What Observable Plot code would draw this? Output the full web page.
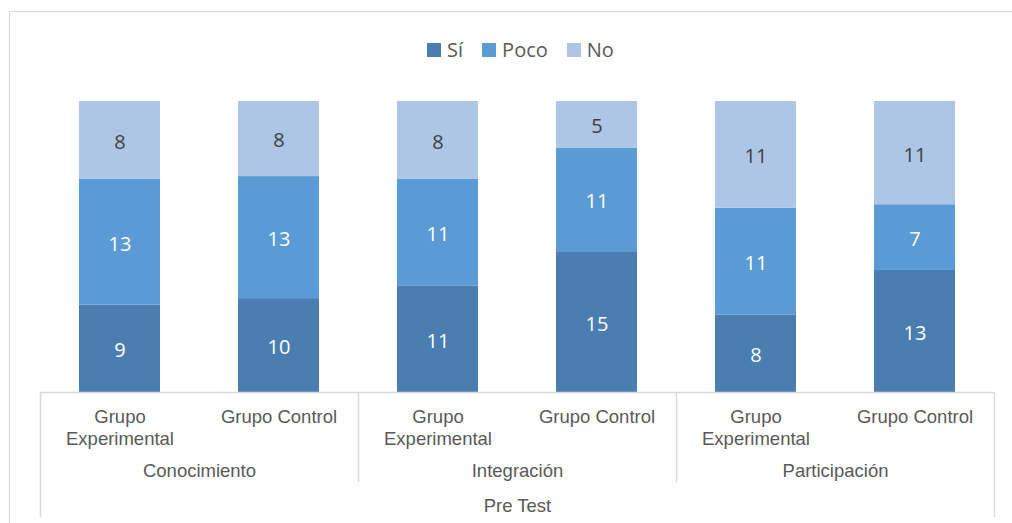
<!DOCTYPE html>
<html><head><meta charset="utf-8">
<script src="https://cdn.jsdelivr.net/npm/d3@7"></script>
<script src="https://cdn.jsdelivr.net/npm/@observablehq/plot@0.6"></script>
<style>
html,body{margin:0;padding:0;background:#fff;overflow:hidden;width:1012px;height:523px}
#frame{position:absolute;left:9px;top:11px;width:1100px;height:600px;border:1.5px solid #d9d9d9;box-sizing:border-box}
#wrap{position:absolute;left:0;top:0;width:1012px}
#legend{height:64px;box-sizing:border-box;padding-top:35px;padding-left:29px;display:flex;justify-content:center}
.lg-swatches{font-family:"Open Sans",sans-serif !important;font-size:20px !important;color:#595959 !important;margin:0 !important;}
.lg-swatches-wrap{min-height:0 !important;height:29px;justify-content:center}
.lg-swatch{margin-right:19px !important}
.lg-swatch:last-child{margin-right:0 !important}
.lg-swatch > svg{margin-right:6px !important}
#chartbox > svg{display:block}
</style>
</head>
<body>
<div id="frame"></div>
<div id="wrap"><div id="legend"></div><div id="chartbox"></div></div>
<script>
// ---- data ----
const phase = "Pre Test";
const sections = ["Conocimiento", "Integración", "Participación"];
const groups = ["Grupo Experimental", "Grupo Control"];
const cats = ["Sí", "Poco", "No"];
const siValues   = [9, 10, 11, 15, 8, 13];
const pocoValues = [13, 13, 11, 11, 11, 7];
const noValues   = [8, 8, 8, 5, 11, 11];
const colors = ["#4a7eb0", "#5b9bd5", "#adc6e6"];

const series = [siValues, pocoValues, noValues];
const data = [];
for (let i = 0; i < siValues.length; i++) {
  cats.forEach((c, k) => data.push({
    section: sections[Math.floor(i / 2)],
    group: groups[i % 2],
    cat: c,
    value: series[k][i]
  }));
}

// ---- layout ----
const W = 1012, H = 459, mT = 37, mB = 131, mL = 40, mR = 18;
const plotH = H - mT - mB;
const facetW = (W - mL - mR) / sections.length;
const step = facetW / groups.length;
const innerDepth = 90, outerDepth = 125;
const lineColor = "#d9d9d9";

const leftSeps = sections.map((s, i) => ({section: s, group: groups[0], depth: i === 0 ? outerDepth : innerDepth}));
const rightSeps = [{section: sections[sections.length - 1], group: groups[groups.length - 1], depth: outerDepth}];

const stackOpts = {offset: "normalize", fx: "section", x: "group", y: "value"};

const chart = Plot.plot({
  width: W, height: H,
  marginTop: mT, marginBottom: mB, marginLeft: mL, marginRight: mR,
  style: {fontFamily: "'Liberation Sans', Arial, sans-serif", fontSize: "18.5px", color: "#595959", background: "transparent", overflow: "visible"},
  fx: {domain: sections, padding: 0},
  x: {domain: groups, paddingInner: 0.49, paddingOuter: 0.245},
  y: {domain: [0, 1], axis: null},
  color: {domain: cats, range: colors},
  marks: [
    Plot.barY(data, Plot.stackY({...stackOpts, fill: "cat"})),
    Plot.ruleY([0], {stroke: lineColor, strokeWidth: 1.5}),
    Plot.ruleX(leftSeps, {fx: "section", x: "group", y1: 0, y2: d => -d.depth / plotH, dx: -step / 2, stroke: lineColor, strokeWidth: 1.5}),
    Plot.ruleX(rightSeps, {fx: "section", x: "group", y1: 0, y2: d => -d.depth / plotH, dx: step / 2, stroke: lineColor, strokeWidth: 1.5}),
    Plot.text(data, Plot.stackY({...stackOpts, text: d => d.cat === "No" ? null : String(d.value), fill: "white", fontFamily: "'Open Sans', sans-serif", fontSize: 20, dy: 2})),
    Plot.text(data, Plot.stackY({...stackOpts, text: d => d.cat === "No" ? String(d.value) : null, fill: "#404040", fontFamily: "'Open Sans', sans-serif", fontSize: 20, dy: 2})),
    Plot.axisX({anchor: "bottom", tickSize: 0, tickPadding: 15, lineHeight: 1.17, label: null, fill: "#595959",
      tickFormat: d => d === "Grupo Experimental" ? "Grupo\nExperimental" : d}),
    Plot.axisFx({anchor: "bottom", tickSize: 0, tickPadding: 71, fill: "#595959", label: phase, labelAnchor: "center", labelOffset: 119})
  ]
});

document.getElementById("chartbox").appendChild(chart);
const leg = chart.legend("color", {className: "lg", swatchWidth: 14, swatchHeight: 14});
document.getElementById("legend").appendChild(leg);
</script>
</body></html>
